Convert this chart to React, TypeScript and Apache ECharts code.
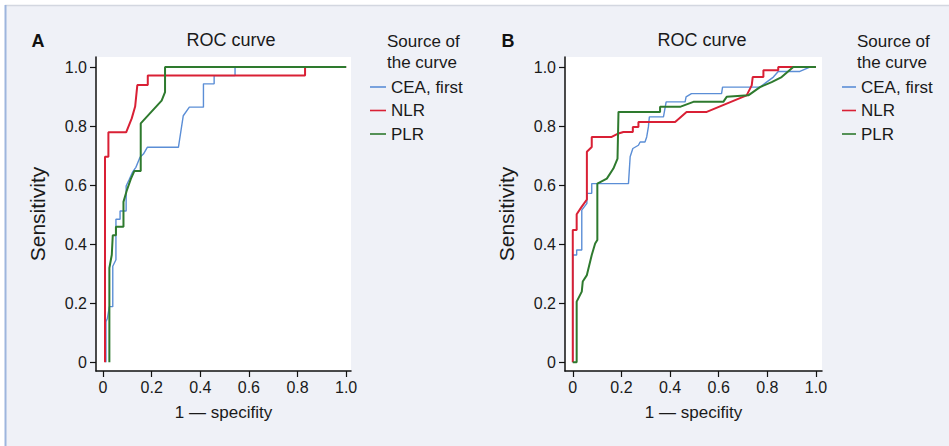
import React, { useEffect, useRef } from "react";
import * as echarts from "echarts";

// ---- Data ----
const seriesNames = ["CEA, first", "NLR", "PLR"];
const tickValues = [0, 0.2, 0.4, 0.6, 0.8, 1.0];
const panelTitles = ["A", "B"];
const chartTitle = "ROC curve";
const xAxisName = "1 \u2014 specifity";
const yAxisName = "Sensitivity";
const legendHeader = "Source of\nthe curve";

// Panel A
const aCEA: [number, number][] = [
  [0.012, 0], [0.012, 0.137], [0.018, 0.149], [0.026, 0.188], [0.04, 0.188],
  [0.04, 0.325], [0.053, 0.347], [0.053, 0.484], [0.07, 0.484], [0.07, 0.512],
  [0.095, 0.512], [0.095, 0.597], [0.108, 0.62], [0.122, 0.645], [0.135, 0.66],
  [0.152, 0.694], [0.166, 0.705], [0.182, 0.728], [0.31, 0.728], [0.33, 0.835],
  [0.355, 0.864], [0.413, 0.864], [0.413, 0.943], [0.457, 0.943], [0.457, 0.971],
  [0.543, 0.971], [0.543, 1.0], [1.0, 1.0],
];
const aNLR: [number, number][] = [
  [0.008, 0], [0.008, 0.696], [0.022, 0.696], [0.022, 0.779], [0.095, 0.779],
  [0.118, 0.826], [0.132, 0.866], [0.141, 0.939], [0.184, 0.939], [0.184, 0.971],
  [0.831, 0.971], [0.831, 1.0], [1.0, 1.0],
];
const aPLR: [number, number][] = [
  [0.026, 0], [0.026, 0.319], [0.036, 0.364], [0.04, 0.43], [0.053, 0.43],
  [0.053, 0.459], [0.084, 0.459], [0.084, 0.543], [0.097, 0.58], [0.114, 0.62],
  [0.129, 0.648], [0.155, 0.648], [0.155, 0.809], [0.241, 0.886], [0.255, 0.915],
  [0.255, 1.0], [1.0, 1.0],
];

// Panel B
const bCEA: [number, number][] = [
  [0, 0], [0, 0.363], [0.016, 0.363], [0.016, 0.38], [0.037, 0.38],
  [0.037, 0.515], [0.058, 0.538], [0.058, 0.572], [0.078, 0.572], [0.078, 0.605],
  [0.229, 0.605], [0.236, 0.696], [0.247, 0.724], [0.27, 0.735], [0.277, 0.746],
  [0.297, 0.746], [0.304, 0.763], [0.311, 0.797], [0.315, 0.831], [0.373, 0.831],
  [0.384, 0.882], [0.462, 0.882], [0.466, 0.899], [0.488, 0.91], [0.612, 0.91],
  [0.616, 0.932], [0.77, 0.932], [0.797, 0.949], [0.825, 0.966], [0.845, 0.985],
  [0.934, 0.985], [0.975, 1.0], [1.0, 1.0],
];
const bNLR: [number, number][] = [
  [0, 0], [0, 0.448], [0.016, 0.448], [0.016, 0.501], [0.037, 0.527],
  [0.058, 0.551], [0.058, 0.713], [0.078, 0.729], [0.078, 0.763], [0.16, 0.763],
  [0.188, 0.775], [0.208, 0.78], [0.247, 0.78], [0.247, 0.797], [0.27, 0.797],
  [0.27, 0.814], [0.421, 0.814], [0.468, 0.848], [0.551, 0.848], [0.715, 0.904],
  [0.736, 0.938], [0.74, 0.966], [0.784, 0.966], [0.784, 0.989], [0.845, 0.989],
  [0.845, 1.0], [1.0, 1.0],
];
const bPLR: [number, number][] = [
  [0, 0], [0.016, 0], [0.016, 0.205], [0.037, 0.239], [0.041, 0.273],
  [0.058, 0.295], [0.078, 0.363], [0.092, 0.402], [0.101, 0.414], [0.101, 0.605],
  [0.14, 0.622], [0.167, 0.656], [0.184, 0.69], [0.188, 0.848], [0.359, 0.848],
  [0.359, 0.865], [0.441, 0.865], [0.496, 0.882], [0.619, 0.882], [0.633, 0.899],
  [0.722, 0.904], [0.77, 0.932], [0.818, 0.949], [0.859, 0.966], [0.907, 1.0],
  [1.0, 1.0],
];

const panelData = [
  [aCEA, aNLR, aPLR],
  [bCEA, bNLR, bPLR],
];

// ---- Styles ----
const FONT = "'Liberation Sans', Arial, sans-serif";
const TEXT = "#1a1a1a";
const colors = ["#5b8ed6", "#d92035", "#2e7a2e"];
const widths = [1.4, 2, 2];

export default function App() {
  const ref = useRef<HTMLDivElement>(null);

  useEffect(() => {
    document.body.style.margin = "0";
    if (!ref.current) return;
    const chart = echarts.init(ref.current, null, { renderer: "svg" });

    const grids = [
      { left: 96, top: 57, width: 255, height: 314 },
      { left: 565, top: 57, width: 257, height: 314 },
    ];
    const xRanges = [
      { min: -0.029, max: 1.02 },
      { min: -0.032, max: 1.025 },
    ];
    const fmt = (v: number) => (Math.abs(v) < 1e-9 ? "0" : v.toFixed(1));

    const axisCommon = {
      type: "value" as const,
      splitLine: { show: false },
      axisLine: { show: true, onZero: false, lineStyle: { color: "#111", width: 1.5 } },
      axisTick: {
        show: true,
        customValues: tickValues,
        length: 6,
        lineStyle: { color: "#111", width: 1.2 },
      },
      nameLocation: "middle" as const,
    };

    const xAxis = grids.map((_, i) => ({
      ...axisCommon,
      gridIndex: i,
      min: xRanges[i].min,
      max: xRanges[i].max,
      axisLabel: {
        customValues: tickValues,
        formatter: fmt,
        fontSize: 16,
        color: TEXT,
        fontFamily: FONT,
        margin: 8,
      },
      name: xAxisName,
      nameGap: 33,
      nameTextStyle: { fontSize: 17, color: TEXT, fontFamily: FONT },
    }));
    const yAxis = grids.map((_, i) => ({
      ...axisCommon,
      gridIndex: i,
      min: -0.03,
      max: 1.034,
      axisLabel: {
        customValues: tickValues,
        formatter: fmt,
        fontSize: 16,
        color: TEXT,
        fontFamily: FONT,
        margin: 9,
      },
      name: yAxisName,
      nameGap: 48,
      nameTextStyle: { fontSize: 21, color: TEXT, fontFamily: FONT },
    }));

    const series: any[] = [];
    panelData.forEach((panel, p) => {
      panel.forEach((data, s) => {
        series.push({
          type: "line",
          name: seriesNames[s],
          xAxisIndex: p,
          yAxisIndex: p,
          data,
          symbol: "none",
          showSymbol: false,
          lineStyle: { color: colors[s], width: widths[s] },
          itemStyle: { color: colors[s] },
          z: 2 + s,
        });
      });
    });

    const legendPos = [
      { left: 365, itemWidth: 16 },
      { left: 837, itemWidth: 14 },
    ];
    const legend = legendPos.map((lp) => ({
      orient: "vertical" as const,
      left: lp.left,
      top: 72,
      icon: "rect",
      itemWidth: lp.itemWidth,
      itemHeight: 1.6,
      itemGap: 3.5,
      selectedMode: false,
      data: seriesNames,
      textStyle: { fontSize: 17, color: TEXT, fontFamily: FONT, lineHeight: 20, padding: [0, 0, 0, 0] },
    }));

    const titlePos = [
      { letterX: 38, titleX: 231, headerX: 387 },
      { letterX: 508, titleX: 702, headerX: 857 },
    ];
    const graphic: any[] = [
      {
        type: "rect",
        shape: { x: 5, y: 5, width: 944, height: 441 },
        style: { fill: "#eff1f7" },
        z: -10,
        silent: true,
      },
      {
        type: "line",
        shape: { x1: 5, y1: 5.5, x2: 949, y2: 5.5 },
        style: { stroke: "#d3d7e0", lineWidth: 1.5 },
        z: -9,
      },
      {
        type: "line",
        shape: { x1: 5.5, y1: 5, x2: 5.5, y2: 446 },
        style: { stroke: "#9db5dd", lineWidth: 2 },
        z: -9,
      },
    ];
    titlePos.forEach((tp, i) => {
      graphic.push(
        {
          type: "text",
          x: tp.letterX,
          y: 41,
          style: {
            text: panelTitles[i],
            font: `bold 18px ${FONT}`,
            fill: "#111",
            align: "center",
            verticalAlign: "middle",
          },
        },
        {
          type: "text",
          x: tp.titleX,
          y: 40,
          style: {
            text: chartTitle,
            font: `18px ${FONT}`,
            fill: TEXT,
            align: "center",
            verticalAlign: "middle",
          },
        },
        {
          type: "text",
          x: tp.headerX,
          y: 31,
          style: {
            text: legendHeader,
            font: `17px ${FONT}`,
            lineHeight: 21,
            fill: TEXT,
            align: "left",
            verticalAlign: "top",
          },
        }
      );
    });

    chart.setOption({
      animation: false,
      backgroundColor: "#ffffff",
      grid: grids.map((g) => ({
        ...g,
        show: true,
        backgroundColor: "#ffffff",
        borderWidth: 0,
      })),
      xAxis,
      yAxis,
      legend,
      series,
      graphic,
    });

    return () => chart.dispose();
  }, []);

  return <div ref={ref} style={{ width: 949, height: 446 }} />;
}
